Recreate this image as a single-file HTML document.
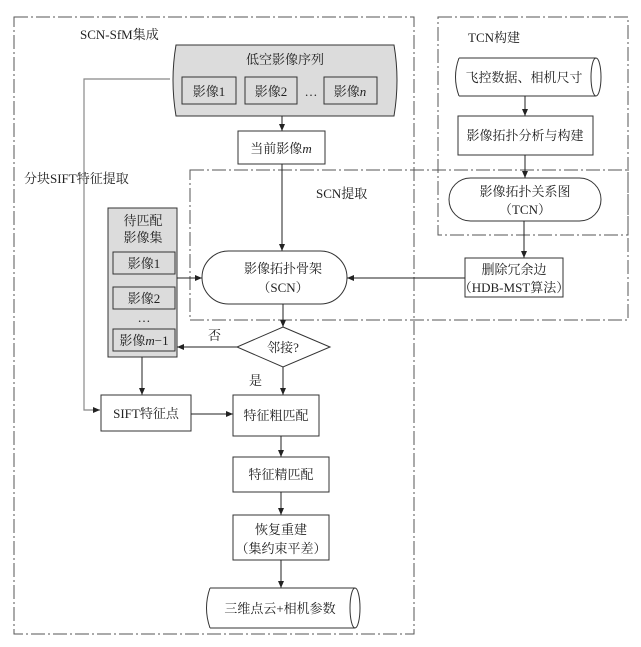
<!DOCTYPE html>
<html><head><meta charset="utf-8"><style>
html,body{margin:0;padding:0;background:#fff;}
svg{display:block;}
text{font-family:"Liberation Serif","Noto Serif CJK SC","Noto Sans CJK SC",serif;font-size:13px;fill:#222;}
</style></head><body>
<svg width="641" height="647" viewBox="0 0 641 647" xmlns="http://www.w3.org/2000/svg">
<defs><marker id="a" markerWidth="8" markerHeight="8" refX="7" refY="4" orient="auto" markerUnits="userSpaceOnUse"><path d="M0,1 L7,4 L0,7 Z" fill="#222"/></marker></defs>
<g fill="none" stroke="#555" stroke-width="1" stroke-dasharray="14,3,2,3">
<rect x="14" y="17" width="400" height="617"/>
<rect x="438" y="17" width="190" height="218"/>
<rect x="190" y="170" width="438" height="150"/>
</g>
<text x="80" y="39">SCN-SfM集成</text>
<text x="468" y="42">TCN构建</text>
<text x="316" y="198">SCN提取</text>
<text x="24" y="183">分块SIFT特征提取</text>
<!-- gray line -->
<polyline points="170,79 84,79 84,410 100,410" fill="none" stroke="#888" stroke-width="1.2" marker-end="url(#a)"/>
<!-- top image sequence -->
<path d="M176,45 H394 Q400,80 394,116 H176 Q170,80 176,45 Z" fill="#dcdcdc" stroke="#333"/>
<text x="285" y="64" text-anchor="middle">低空影像序列</text>
<rect x="182" y="77" width="54" height="27" fill="#dcdcdc" stroke="#333"/><text x="209" y="96" text-anchor="middle">影像1</text>
<rect x="245" y="77" width="52" height="27" fill="#dcdcdc" stroke="#333"/><text x="271" y="96" text-anchor="middle">影像2</text>
<text x="311" y="96" text-anchor="middle">…</text>
<rect x="324" y="77" width="53" height="27" fill="#dcdcdc" stroke="#333"/><text x="350" y="96" text-anchor="middle">影像<tspan font-style="italic">n</tspan></text>
<line x1="282" y1="116" x2="282" y2="131" stroke="#222" marker-end="url(#a)"/>
<rect x="238" y="131" width="87" height="33" fill="#fff" stroke="#333"/><text x="281" y="153" text-anchor="middle">当前影像<tspan font-style="italic">m</tspan></text>
<line x1="282" y1="164" x2="282" y2="251" stroke="#222" marker-end="url(#a)"/>
<!-- pending set -->
<rect x="108" y="208" width="69" height="149" fill="#dcdcdc" stroke="#333"/>
<text x="143" y="225" text-anchor="middle">待匹配</text>
<text x="143" y="242" text-anchor="middle">影像集</text>
<rect x="113" y="252" width="62" height="22" fill="#dcdcdc" stroke="#333"/><text x="144" y="268" text-anchor="middle">影像1</text>
<rect x="113" y="287" width="62" height="22" fill="#dcdcdc" stroke="#333"/><text x="144" y="303" text-anchor="middle">影像2</text>
<text x="144" y="322" text-anchor="middle">…</text>
<rect x="113" y="329" width="62" height="22" fill="#dcdcdc" stroke="#333"/><text x="144" y="345" text-anchor="middle">影像<tspan font-style="italic">m</tspan>−1</text>
<line x1="177" y1="278" x2="202" y2="278" stroke="#222" marker-end="url(#a)"/>
<!-- SCN -->
<rect x="202" y="251" width="145" height="53" rx="26.5" fill="#fff" stroke="#333"/>
<text x="283" y="273" text-anchor="middle">影像拓扑骨架</text>
<text x="283" y="292" text-anchor="middle">（SCN）</text>
<line x1="283" y1="304" x2="283" y2="327" stroke="#222" marker-end="url(#a)"/>
<polygon points="283,327 330,347 283,367 237,347" fill="#fff" stroke="#333"/>
<text x="283" y="352" text-anchor="middle">邻接?</text>
<line x1="237" y1="347" x2="177" y2="347" stroke="#222" marker-end="url(#a)"/>
<text x="208" y="340">否</text>
<line x1="283" y1="367" x2="283" y2="395" stroke="#222" marker-end="url(#a)"/>
<text x="249" y="385">是</text>
<line x1="142" y1="357" x2="142" y2="395" stroke="#222" marker-end="url(#a)"/>
<rect x="101" y="395" width="90" height="36" fill="#fff" stroke="#333"/><text x="146" y="418" text-anchor="middle">SIFT特征点</text>
<line x1="191" y1="414" x2="233" y2="414" stroke="#222" marker-end="url(#a)"/>
<rect x="233" y="395" width="86" height="41" fill="#fff" stroke="#333"/><text x="276" y="420" text-anchor="middle">特征粗匹配</text>
<line x1="281" y1="436" x2="281" y2="457" stroke="#222" marker-end="url(#a)"/>
<rect x="233" y="457" width="96" height="35" fill="#fff" stroke="#333"/><text x="281" y="479" text-anchor="middle">特征精匹配</text>
<line x1="281" y1="492" x2="281" y2="515" stroke="#222" marker-end="url(#a)"/>
<rect x="233" y="515" width="96" height="45" fill="#fff" stroke="#333"/>
<text x="281" y="534" text-anchor="middle">恢复重建</text>
<text x="281" y="553" text-anchor="middle">（集约束平差）</text>
<line x1="281" y1="560" x2="281" y2="588" stroke="#222" marker-end="url(#a)"/>
<path d="M210,588 H355 M210,628 H355 M210,588 Q203,608 210,628" fill="#fff" stroke="#333"/>
<ellipse cx="355" cy="608" rx="5" ry="20" fill="#fff" stroke="#333"/>
<text x="280" y="613" text-anchor="middle">三维点云+相机参数</text>
<!-- TCN -->
<path d="M459,58 H596 M459,96 H596 M459,58 Q452,77 459,96" fill="#fff" stroke="#333"/>
<ellipse cx="596" cy="77" rx="5" ry="19" fill="#fff" stroke="#333"/>
<text x="524" y="82" text-anchor="middle">飞控数据、相机尺寸</text>
<line x1="525" y1="96" x2="525" y2="116" stroke="#222" marker-end="url(#a)"/>
<rect x="458" y="116" width="135" height="39" fill="#fff" stroke="#333"/><text x="525" y="140" text-anchor="middle">影像拓扑分析与构建</text>
<line x1="525" y1="155" x2="525" y2="178" stroke="#222" marker-end="url(#a)"/>
<rect x="449" y="178" width="152" height="43" rx="21.5" fill="#fff" stroke="#333"/>
<text x="525" y="196" text-anchor="middle">影像拓扑关系图</text>
<text x="525" y="214" text-anchor="middle">（TCN）</text>
<line x1="524" y1="221" x2="524" y2="258" stroke="#222" marker-end="url(#a)"/>
<rect x="465" y="258" width="98" height="39" fill="#fff" stroke="#333"/>
<text x="514" y="274" text-anchor="middle">删除冗余边</text>
<text x="514" y="292" text-anchor="middle">（HDB-MST算法）</text>
<line x1="465" y1="278" x2="347" y2="278" stroke="#222" marker-end="url(#a)"/>
</svg>
</body></html>
